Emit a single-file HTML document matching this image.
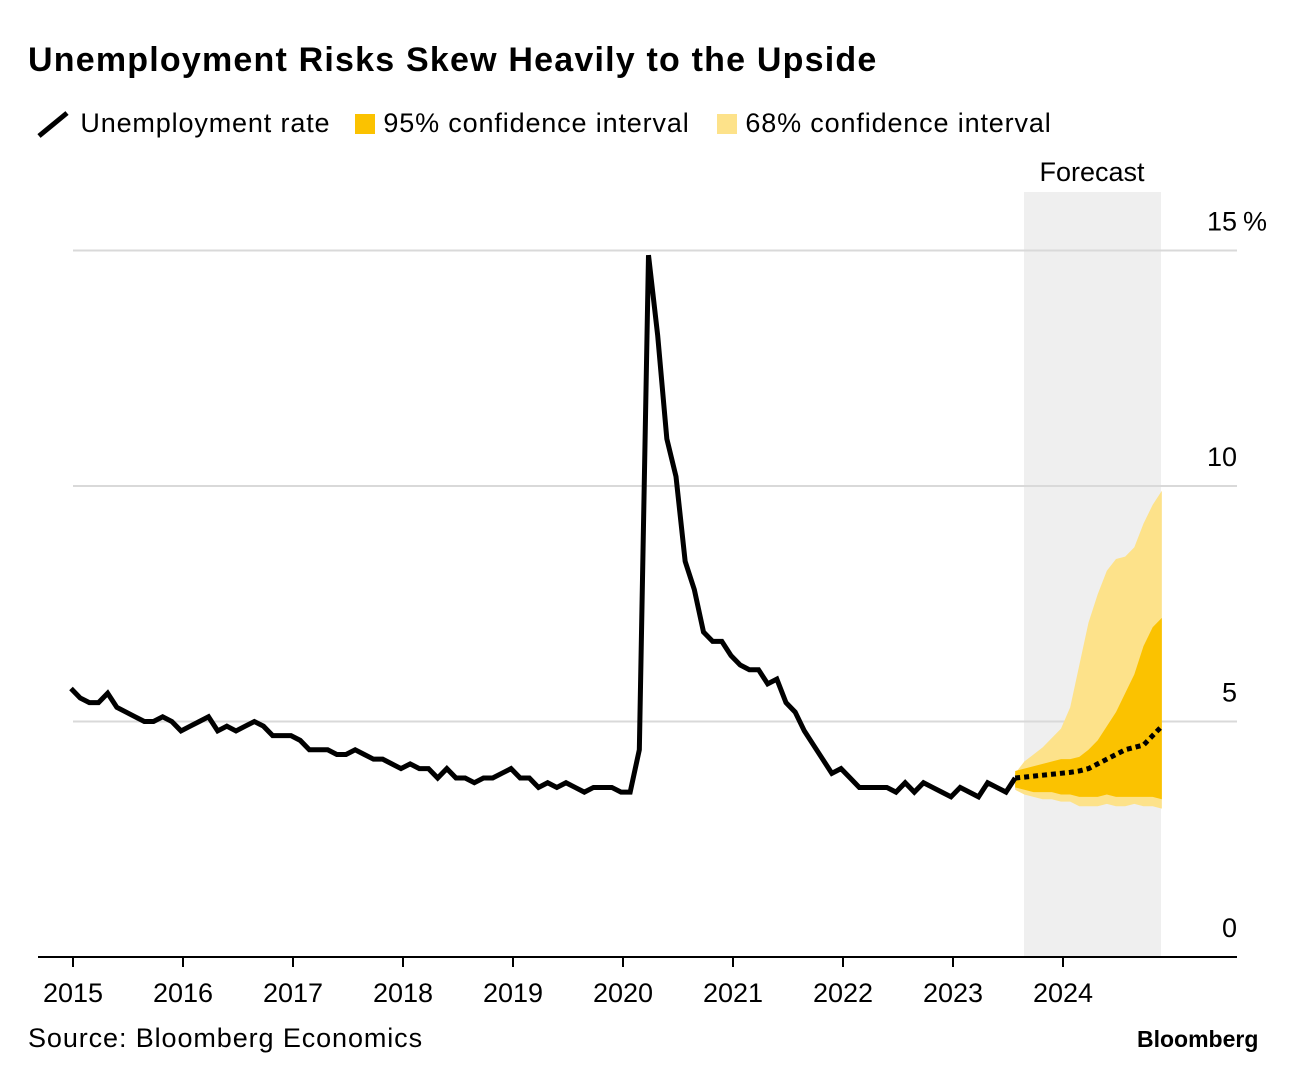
<!DOCTYPE html>
<html><head><meta charset="utf-8">
<style>
body{margin:0;background:#fff;font-family:"Liberation Sans",sans-serif;}
#wrap{position:relative;width:1296px;height:1074px;overflow:hidden;}
.t{position:absolute;white-space:nowrap;color:#000;}
</style></head>
<body><div id="wrap">
<div class="t" style="left:28px;top:41px;font-size:34px;font-weight:bold;letter-spacing:1.2px">Unemployment Risks Skew Heavily to the Upside</div>
<div style="position:absolute;left:36px;top:108px;font-size:27px;height:32px;letter-spacing:0.85px">
 <span style="position:absolute;left:0;top:0;white-space:nowrap"><svg width="36" height="30" style="vertical-align:middle"><line x1="3" y1="26" x2="31" y2="3" stroke="#000" stroke-width="5"/></svg> Unemployment rate</span>
 <span style="position:absolute;left:319px;top:0;white-space:nowrap"><span style="display:inline-block;width:20px;height:20px;background:#fbc200;vertical-align:-2px"></span> 95% confidence interval</span>
 <span style="position:absolute;left:681px;top:0;white-space:nowrap"><span style="display:inline-block;width:20px;height:20px;background:#fde28a;vertical-align:-2px"></span> 68% confidence interval</span>
</div>
<svg id="chart" width="1296" height="1074" style="position:absolute;left:0;top:0"></svg>
<div class="t" style="left:28px;top:1023px;font-size:27px;letter-spacing:0.9px">Source: Bloomberg Economics</div>
<div class="t" style="left:1137px;top:1026px;font-size:23px;font-weight:bold">Bloomberg</div>
</div>
<script>
const years=[2015,2016,2017,2018,2019,2020,2021,2022,2023,2024];
const yTicks=[0,5,10,15];
const rate=[5.7,5.5,5.4,5.4,5.6,5.3,5.2,5.1,5.0,5.0,5.1,5.0,
4.8,4.9,5.0,5.1,4.8,4.9,4.8,4.9,5.0,4.9,4.7,4.7,
4.7,4.6,4.4,4.4,4.4,4.3,4.3,4.4,4.3,4.2,4.2,4.1,
4.0,4.1,4.0,4.0,3.8,4.0,3.8,3.8,3.7,3.8,3.8,3.9,
4.0,3.8,3.8,3.6,3.7,3.6,3.7,3.6,3.5,3.6,3.6,3.6,
3.5,3.5,4.4,14.9,13.2,11.0,10.2,8.4,7.8,6.9,6.7,6.7,
6.4,6.2,6.1,6.1,5.8,5.9,5.4,5.2,4.8,4.5,4.2,3.9,
4.0,3.8,3.6,3.6,3.6,3.6,3.5,3.7,3.5,3.7,3.6,3.5,
3.4,3.6,3.5,3.4,3.7,3.6,3.5,3.8];
const fcStart=103;
const median=[3.8,3.82,3.84,3.86,3.88,3.9,3.92,3.95,4.0,4.1,4.2,4.3,4.4,4.45,4.5,4.7,4.9];
const ci95Upper=[3.95,4.0,4.05,4.1,4.15,4.2,4.2,4.25,4.4,4.6,4.9,5.2,5.6,6.0,6.6,7.0,7.2];
const ci95Lower=[3.6,3.55,3.5,3.5,3.5,3.45,3.45,3.4,3.4,3.4,3.45,3.4,3.4,3.4,3.4,3.4,3.35];
const ci68Upper=[3.9,4.15,4.3,4.45,4.65,4.85,5.3,6.2,7.1,7.7,8.2,8.45,8.5,8.7,9.2,9.6,9.9];
const ci68Lower=[3.55,3.45,3.4,3.35,3.35,3.3,3.3,3.2,3.2,3.2,3.25,3.2,3.2,3.25,3.2,3.2,3.15];

const NS="http://www.w3.org/2000/svg";
const svg=document.getElementById('chart');
const X=m=>71+m*110/12;
const XT=yr=>73+(yr-2015)*110;
const Y=v=>957-v*47.1;
function mk(tag,attrs){const e=document.createElementNS(NS,tag);for(const k in attrs)e.setAttribute(k,attrs[k]);svg.appendChild(e);return e;}

let sh=mk('rect',{x:1024,y:192,width:137,height:765,fill:'#efefef'});


let ft=mk('text',{x:1092,y:181,'font-size':27,'text-anchor':'middle','font-family':'Liberation Sans, sans-serif'});
ft.textContent='Forecast';



yTicks.forEach(v=>{
 if(v>0){let g=mk('line',{x1:73,x2:1237,y1:Y(v),y2:Y(v),stroke:'#d9d9d9','stroke-width':2});
  
  }
 let t=mk('text',{x:1237,y:Y(v)-20,'font-size':27,'text-anchor':'end','font-family':'Liberation Sans, sans-serif'});
 t.textContent=v;
 
 
 if(v===15){let p=mk('text',{x:1243,y:Y(v)-20,'font-size':27,'font-family':'Liberation Sans, sans-serif'});
  p.textContent='%';
  
  }
});

function band(up,lo,fill,name){
 let pts=up.map((v,i)=>X(fcStart+i)+','+Y(v));
 for(let i=lo.length-1;i>=0;i--)pts.push(X(fcStart+i)+','+Y(lo[i]));
 let p=mk('polygon',{points:pts.join(' '),fill:fill});
 
 
}
band(ci68Upper,ci68Lower,'#fde28a','band-68');
band(ci95Upper,ci95Lower,'#fbc200','band-95');

let bl=mk('line',{x1:38,x2:1237,y1:957,y2:957,stroke:'#000','stroke-width':2});


years.forEach(yr=>{
 const x=XT(yr);
 let tk=mk('line',{x1:x,x2:x,y1:957,y2:967,stroke:'#000','stroke-width':2});
 
 
 let t=mk('text',{x:x,y:1002,'font-size':27,'text-anchor':'middle','font-family':'Liberation Sans, sans-serif'});
 t.textContent=yr;
 
 
});

let ln=mk('polyline',{points:rate.map((v,i)=>X(i)+','+Y(v)).join(' '),fill:'none',stroke:'#000','stroke-width':5,'stroke-linejoin':'miter'});


let md=mk('polyline',{points:median.map((v,i)=>X(fcStart+i)+','+Y(v)).join(' '),fill:'none',stroke:'#000','stroke-width':5,'stroke-dasharray':'5,4'});


</script>
</body></html>
